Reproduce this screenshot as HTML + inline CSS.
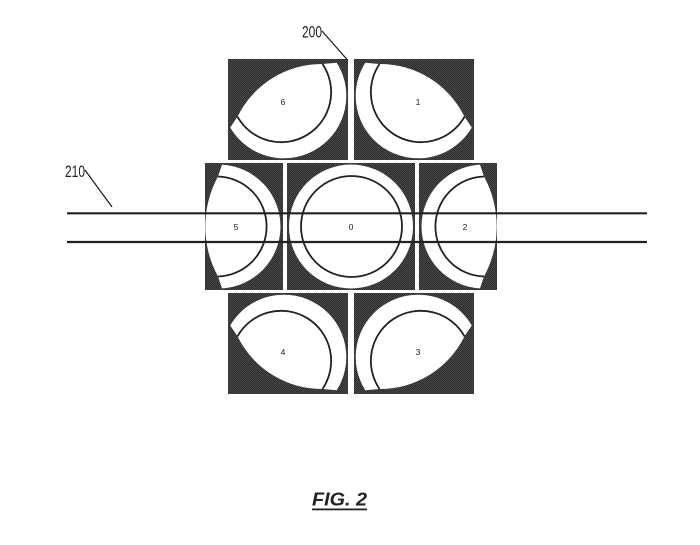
<!DOCTYPE html>
<html><head><meta charset="utf-8"><style>
html,body{margin:0;padding:0;background:#fff}
svg{display:block}
text{font-family:"Liberation Sans",sans-serif;fill:#222}
</style></head><body>
<svg width="700" height="545" viewBox="0 0 700 545" xmlns="http://www.w3.org/2000/svg">
<defs>
<pattern id="h" width="2" height="2" patternUnits="userSpaceOnUse">
<rect width="2" height="2" fill="#2b2b2b"/>
<rect width="1" height="1" fill="#4a4a4a"/>
<rect x="1" y="1" width="1" height="1" fill="#4a4a4a"/>
</pattern>
<g id="corner">
<rect x="228" y="59" width="120" height="101" fill="url(#h)"/>
<path d="M230.2,127.5 A62.3,62.3 0 0 0 284,158.3 A62.3,62.3 0 0 0 346.3,96 A62.3,62.3 0 0 0 336.7,62.8 L322.5,64 A94,94 0 0 0 237.5,116.7 Z" fill="#fff"/>
<path d="M237.5,116.7 A50.05,50.05 0 1 0 322.5,64" fill="none" stroke="#222" stroke-width="1.8"/>
</g>
<g id="side">
<rect x="205" y="163" width="78" height="127" fill="url(#h)"/>
<path d="M222,164.6 A62,62 0 0 1 222,288.4 L218,276.5 A104.6,104.6 0 0 1 218,176.5 Z" fill="#fff"/>
<path d="M218,176.5 A50.02,50.02 0 0 1 218,276.5" fill="none" stroke="#222" stroke-width="1.8"/>
</g>
</defs>
<use href="#corner"/>
<use href="#corner" transform="translate(702,0) scale(-1,1)"/>
<use href="#corner" transform="translate(0,453) scale(1,-1)"/>
<use href="#corner" transform="translate(702,453) scale(-1,-1)"/>
<use href="#side"/>
<use href="#side" transform="translate(702,0) scale(-1,1)"/>
<rect x="287" y="163" width="128" height="127" fill="url(#h)"/>
<circle cx="351" cy="226.5" r="62" fill="#fff"/>
<circle cx="351.5" cy="226.5" r="50.5" fill="none" stroke="#222" stroke-width="1.8"/>
<g font-size="8.5" text-anchor="middle">
<text x="283" y="105">6</text>
<text x="418" y="105">1</text>
<text x="236" y="230">5</text>
<text x="351" y="230">0</text>
<text x="465" y="230">2</text>
<text x="283" y="355">4</text>
<text x="418" y="355">3</text>
</g>
<path d="M67,213.3H647M67,242H647" stroke="#222" stroke-width="2.2" fill="none"/>
<path d="M322,31L347.5,60M85,170L112,207" stroke="#222" stroke-width="1.3" fill="none"/>
<text x="302" y="37.5" font-size="17" textLength="20" lengthAdjust="spacingAndGlyphs">200</text>
<text x="65" y="177" font-size="17" textLength="20" lengthAdjust="spacingAndGlyphs">210</text>
<text x="312" y="505.5" font-size="18" font-weight="bold" font-style="italic" textLength="55" lengthAdjust="spacingAndGlyphs">FIG. 2</text>
<rect x="312" y="508.5" width="55" height="1.8" fill="#222"/>
</svg>
</body></html>
